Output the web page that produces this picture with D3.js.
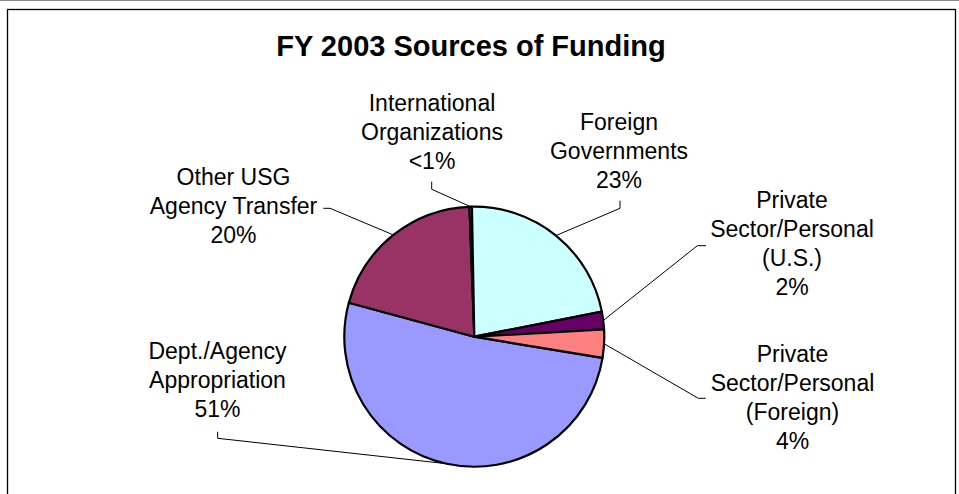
<!DOCTYPE html>
<html lang="en">
  <head>
    <meta charset="UTF-8" />
    <title>FY 2003 Sources of Funding</title>
    <style>
      body {
        margin: 0;
        background: #fff;
      }

      text {
        font-family: "Liberation Sans", Arial, sans-serif;
        fill: #000;
      }

      .title {
        font-size: 29px;
        font-weight: bold;
      }

      .label {
        font-size: 23px;
      }

      .slice {
        stroke: #000;
        stroke-width: 2.2px;
        stroke-linejoin: round;
      }

      .leader {
        fill: none;
        stroke: #000;
        stroke-width: 1px;
      }
    </style>
  </head>

  <body>
    <script src="https://cdn.jsdelivr.net/npm/d3@7"></script>
    <script>

      // Data (Excel series order, first slice rotated to ~99 degrees)
      var categories = [
        "Dept./Agency Appropriation",
        "Other USG Agency Transfer",
        "International Organizations",
        "Foreign Governments",
        "Private Sector/Personal (U.S.)",
        "Private Sector/Personal (Foreign)"
      ];
      var values = [51.6, 20.2, 0.3, 22.2, 2.2, 3.5];
      var pctLabels = ["51%", "20%", "<1%", "23%", "2%", "4%"];
      var labelLines = [
        ["Dept./Agency", "Appropriation"],
        ["Other USG", "Agency Transfer"],
        ["International", "Organizations"],
        ["Foreign", "Governments"],
        ["Private", "Sector/Personal", "(U.S.)"],
        ["Private", "Sector/Personal", "(Foreign)"]
      ];
      var colors = ["#9999FF", "#993366", "#FFFFCC", "#CCFFFF", "#660066", "#FF8080"];


      // Layout
      var w = 959,
          h = 494;

      var cx = 474.3,
          cy = 336.7,
          r = 130;

      var firstSliceAngle = 99.4 * Math.PI / 180;
      var lineStep = 29;

      // label block position (centre x, first baseline) and leader elbow points
      var labelPos = [
        { x: 217.5, y: 359.3, elbow: [[217.7, 438.3], [217.7, 431.7]] },
        { x: 233.5, y: 185.0, elbow: [[330.0, 208.3], [323.3, 208.3]] },
        { x: 432.0, y: 110.7, elbow: [[431.7, 189.3], [431.7, 181.7]] },
        { x: 619.0, y: 130.0, elbow: [[620.0, 208.3], [620.0, 200.7]] },
        { x: 792.0, y: 208.3, elbow: [[697.3, 245.7], [706.0, 245.7]] },
        { x: 792.5, y: 361.7, elbow: [[698.3, 398.3], [705.7, 398.3]] }
      ];


      var svg = d3.select("body").append("svg")
        .attr("width", w)
        .attr("height", h);

      // page line and chart frame
      svg.append("line")
        .attr("x1", 0).attr("x2", w)
        .attr("y1", 0.5).attr("y2", 0.5)
        .attr("stroke", "#8a8a8a")
        .attr("stroke-width", 1);

      svg.append("rect")
        .attr("x", 7.5)
        .attr("y", 9.5)
        .attr("width", 948)
        .attr("height", 500)
        .attr("fill", "none")
        .attr("stroke", "#000")
        .attr("stroke-width", 1.3);

      // title
      svg.append("text")
        .attr("class", "title")
        .attr("x", 471)
        .attr("y", 56)
        .attr("text-anchor", "middle")
        .text("FY 2003 Sources of Funding");


      // Pie
      var data = categories.map(function(c, i) {
        return { name: c, value: values[i], color: colors[i], pct: pctLabels[i], lines: labelLines[i], pos: labelPos[i] };
      });

      var pie = d3.pie()
        .sort(null)
        .value(function(d) { return d.value; })
        .startAngle(firstSliceAngle)
        .endAngle(firstSliceAngle + 2 * Math.PI);

      var arc = d3.arc()
        .innerRadius(0)
        .outerRadius(r);

      // zero-width arc: centroid lands on the rim at the slice's mid angle
      var rimArc = d3.arc()
        .innerRadius(r)
        .outerRadius(r);

      var arcs = pie(data);

      var g = svg.append("g")
        .attr("transform", "translate(" + cx + "," + cy + ")");

      g.selectAll("path.slice")
        .data(arcs)
        .enter()
        .append("path")
        .attr("class", "slice")
        .attr("fill", function(d) { return d.data.color; })
        .attr("d", arc);


      // Leader lines
      svg.selectAll("polyline.leader")
        .data(arcs)
        .enter()
        .append("polyline")
        .attr("class", "leader")
        .attr("points", function(d) {
          var p = rimArc.centroid(d);
          var pts = [[p[0] + cx, p[1] + cy]].concat(d.data.pos.elbow);
          return pts.map(function(q) { return q.join(","); }).join(" ");
        });


      // Labels
      var labels = svg.selectAll("text.label")
        .data(arcs)
        .enter()
        .append("text")
        .attr("class", "label")
        .attr("text-anchor", "middle");

      labels.each(function(d) {
        var t = d3.select(this);
        var rows = d.data.lines.concat([d.data.pct]);
        rows.forEach(function(s, i) {
          t.append("tspan")
            .attr("x", d.data.pos.x)
            .attr("y", d.data.pos.y + i * lineStep)
            .text(s);
        });
      });

    </script>
  </body>
</html>
